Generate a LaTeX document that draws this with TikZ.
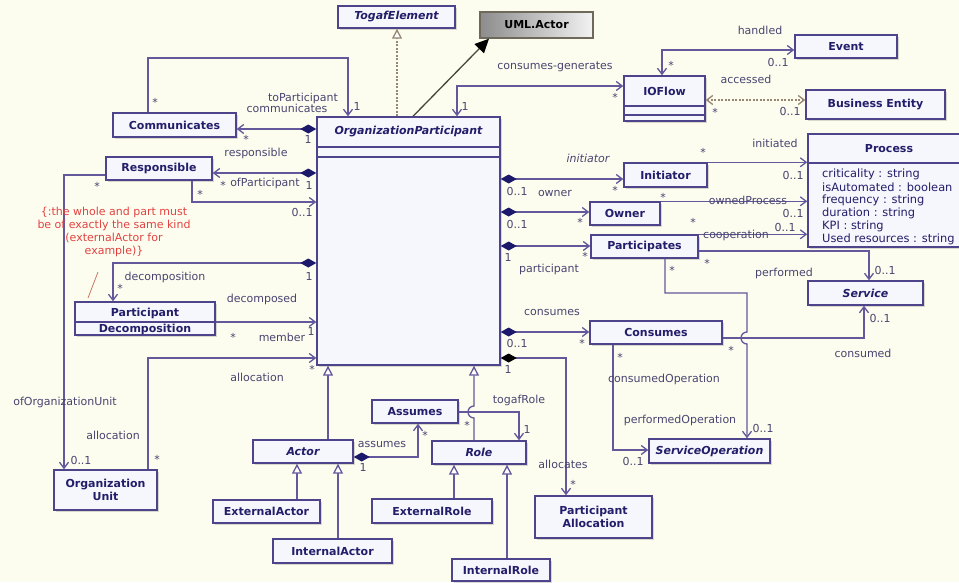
\documentclass[tikz,border=0pt]{standalone}
\usepackage{fontspec}
\setmainfont{DejaVu Sans}
\usetikzlibrary{arrows.meta,shadows}

\definecolor{bgc}{RGB}{253,253,239}
\definecolor{bordc}{RGB}{78,68,140}
\definecolor{boxfillc}{RGB}{246,246,253}
\definecolor{clstext}{RGB}{35,30,105}
\definecolor{linec}{RGB}{98,88,155}
\definecolor{labc}{RGB}{72,68,112}
\definecolor{diac}{RGB}{28,24,108}
\definecolor{notec}{RGB}{226,66,66}
\definecolor{realc}{RGB}{150,135,115}

\newcommand\lblfont{\fontsize{11}{13}\selectfont}
\newcommand\clsfont{\fontsize{11}{13}\selectfont\bfseries}
\newcommand\attrfont{\fontsize{11.4}{13}\selectfont}

\begin{document}
\begin{tikzpicture}[x=1pt,y=-1pt,
  >={Straight Barb[length=6pt,width=9pt]},
  cls/.style={draw=bordc, line width=1.4pt, fill=boxfillc, text=clstext,
    font=\clsfont, inner sep=0pt, align=center,
    drop shadow={shadow xshift=1.5pt,shadow yshift=-1.5pt,opacity=0.15,fill=black}},
  clsi/.style={cls, font=\clsfont\itshape},
  clstxt/.style={text=clstext, font=\clsfont, inner sep=0pt},
  umlbox/.style={draw={rgb,255:red,110;green,105;blue,90}, line width=1.4pt,
    left color=black!45, right color=black!5, text=black, font=\clsfont, inner sep=0pt},
  attr/.style={text=clstext, font=\attrfont, inner sep=0pt, anchor=west},
  assoc/.style={draw=linec, line width=1.3pt},
  comp/.style={assoc, {Diamond[length=16pt,width=9pt,color=diac]}->},
  compblack/.style={assoc, {Diamond[length=16pt,width=9pt,color=black]}->},
  gen/.style={assoc, -{Triangle[length=10pt,width=10pt,fill=white]}},
  real/.style={draw=realc, line width=1.3pt, dash pattern=on 2pt off 1.5pt,
    -{Triangle[length=10pt,width=10pt,fill=white]}},
  dashassoc/.style={assoc, draw=realc, dash pattern=on 2pt off 1.5pt},
  boxline/.style={draw=bordc, line width=1.2pt},
  lab/.style={text=labc, font=\lblfont, inner sep=0pt, text height=8pt, text depth=2pt},
  star/.style={lab, yshift=-3pt}
]
\useasboundingbox (0,0) rectangle (959,582);
\fill[bgc] (0,0) rectangle (959,582);

% ---------- classes ----------
\node[clsi, minimum width=117pt, minimum height=22pt] (togaf) at (396.5,17) {TogafElement};
\node[umlbox, minimum width=113pt, minimum height=26pt] (umlactor) at (536.5,25) {UML.Actor};

\node[cls, minimum width=183pt, minimum height=248pt] (op) at (408.5,241) {};
\node[clstxt, font=\clsfont\itshape] (optitle) at (408.5,132) {OrganizationParticipant};
\draw[boxline] (op.west |- 0,147) -- (op.east |- 0,147);
\draw[boxline] (op.west |- 0,157) -- (op.east |- 0,157);

\node[cls, minimum width=123pt, minimum height=24pt] (comm) at (174.5,125) {Communicates};
\node[cls, minimum width=106pt, minimum height=23pt] (resp) at (159,168.5) {Responsible};
\node[cls, minimum width=140pt, minimum height=33pt] (pdec) at (145,318.5) {};
\draw[boxline] (pdec.west |- 0,322) -- (pdec.east |- 0,322);
\node[clstxt] (pdeca) at (145,313) {Participant};
\node[clstxt] (pdecb) at (145,329) {Decomposition};
\node[cls, minimum width=103pt, minimum height=40pt] (orgunit) at (105.5,490) {Organization\\Unit};

\node[clsi, minimum width=100pt, minimum height=23pt] (actor) at (303,451.5) {Actor};
\node[cls, minimum width=107pt, minimum height=23pt] (extactor) at (266.5,511.5) {ExternalActor};
\node[cls, minimum width=119pt, minimum height=24pt] (intactor) at (332.5,551) {InternalActor};
\node[cls, minimum width=86pt, minimum height=23pt] (assumes) at (415,411.5) {Assumes};
\node[clsi, minimum width=94pt, minimum height=23pt] (role) at (479,452.5) {Role};
\node[cls, minimum width=120pt, minimum height=24pt] (extrole) at (432,511) {ExternalRole};
\node[cls, minimum width=98pt, minimum height=22pt] (introle) at (501,570) {InternalRole};
\node[cls, minimum width=117pt, minimum height=42pt] (partalloc) at (593.5,517) {Participant\\Allocation};

\node[cls, minimum width=81pt, minimum height=45pt] (ioflow) at (664.5,98.5) {};
\node[clstxt] (ioflowt) at (664.5,91) {IOFlow};
\draw[boxline] (ioflow.west |- 0,106) -- (ioflow.east |- 0,106);
\draw[boxline] (ioflow.west |- 0,115) -- (ioflow.east |- 0,115);
\node[cls, minimum width=102pt, minimum height=23pt] (event) at (846,46.5) {Event};
\node[cls, minimum width=139pt, minimum height=29pt] (bizent) at (875.5,104.5) {Business Entity};

\node[cls, minimum width=162pt, minimum height=113pt] (process) at (889,190.5) {};
\node[clstxt] (processt) at (889,149) {Process};
\draw[boxline] (process.west |- 0,163) -- (process.east |- 0,163);
\node[attr] (pa1) at (822,174) {criticality : string};
\node[attr] (pa2) at (822,187) {isAutomated : boolean};
\node[attr] (pa3) at (822,200) {frequency : string};
\node[attr] (pa4) at (822,213) {duration : string};
\node[attr] (pa5) at (822,226) {KPI : string};
\node[attr] (pa6) at (822,239) {Used resources : string};

\node[cls, minimum width=83pt, minimum height=24pt] (initiator) at (665.5,175) {Initiator};
\node[cls, minimum width=70pt, minimum height=23pt] (owner) at (625,213.5) {Owner};
\node[cls, minimum width=107pt, minimum height=23pt] (participates) at (644.5,246.5) {Participates};
\node[clsi, minimum width=115pt, minimum height=24pt] (service) at (865.5,293) {Service};
\node[cls, minimum width=132pt, minimum height=23pt] (consumes) at (656,332.5) {Consumes};
\node[clsi, minimum width=121pt, minimum height=24pt] (servop) at (709.5,451) {ServiceOperation};

% ---------- connectors, left side ----------
\draw[assoc,->] (comm.north -| 148,0) |- (348,58) -- (op.north -| 348,0);
\draw[comp] (op.west |- 0,129) -- (comm.east |- 0,129);
\draw[comp] (op.west |- 0,173) -- (resp.east |- 0,173);
\draw[assoc,->] (resp.south -| 192,0) |- (op.west |- 0,202);
\draw[assoc,->] (resp.west |- 0,175) -| (orgunit.north -| 64,0);
\draw[comp] (op.west |- 0,263) -| (pdec.north -| 113,0);
\draw[assoc,->] (pdec.east |- 0,322) -- (op.west |- 0,322);
\draw[assoc,->] (orgunit.north -| 148,0) |- (op.west |- 0,358);

% ---------- generalizations ----------
\draw[gen] (actor.north -| 328,0) -- (op.south -| 328,0);
\draw[gen] (role.north -| 474,0) -- (474,418) arc[start angle=-90,end angle=-270,radius=6pt] -- (op.south -| 474,0);
\draw[gen] (extactor.north -| 297,0) -- (actor.south -| 297,0);
\draw[gen] (intactor.north -| 338,0) -- (actor.south -| 338,0);
\draw[gen] (extrole.north -| 454,0) -- (role.south -| 454,0);
\draw[gen] (introle.north -| 507,0) -- (role.south -| 507,0);

\draw[comp] (actor.east |- 0,457) -| (assumes.south -| 418,0);
\draw[assoc,->] (assumes.east |- 0,412) -| (role.north -| 519,0);
\draw[compblack] (op.east |- 0,358) -| (partalloc.north -| 566,0);

% ---------- connectors, right side ----------
\draw[comp] (op.east |- 0,179) -- (initiator.west |- 0,179);
\draw[comp] (op.east |- 0,212) -- (owner.west |- 0,212);
\draw[comp] (op.east |- 0,246) -- (participates.west |- 0,246);
\draw[comp] (op.east |- 0,332) -- (consumes.west |- 0,332);

\draw[assoc,->] (initiator.north east) -- (process.west |- initiator.north east);
\draw[assoc,->] (owner.north east) -- (process.west |- owner.north east);
\draw[assoc,->] (participates.north east) -- (process.west |- participates.north east);
\draw[assoc,->] (participates.east |- 0,251) -| (service.north -| 869,0);
\draw[assoc,->] (consumes.east |- 0,338) -| (service.south -| 864,0);
\draw[assoc,->] (participates.south -| 665,0) |- (747,293) -- (747,332)
  arc[start angle=90,end angle=270,radius=6pt] -- (servop.north -| 747,0);
\draw[assoc,->] (consumes.south -| 613,0) |- (servop.west |- 0,450);

\draw[assoc,<->] (op.north -| 457,0) |- (ioflow.west |- 0,86);
\draw[assoc,<->] (ioflow.north -| 662,0) |- (event.west |- 0,50);
\draw[dashassoc,<->] (ioflow.east |- 0,100) -- (bizent.west |- 0,100);

\draw[real] (op.north -| 397,0) -- (togaf.south -| 397,0);
\draw[draw={rgb,255:red,70;green,70;blue,60}, line width=1.3pt,
  -{Triangle[length=14pt,width=13pt,color=black]}] (op.north -| 413,0) -- (umlactor.south -| 489,0);

% ---------- constraint note ----------
\node[text=notec, font=\lblfont, align=center, inner sep=0pt] (note) at (114,231.5)
  {\{:the whole and part must\\be of exactly the same kind\\(externalActor for\\example)\}};
\coordinate (notetip) at (98,272);
\coordinate (notefoot) at (88,298);
\draw[draw={rgb,255:red,200;green,120;blue,100}, line width=0.8pt] (notetip) -- (notefoot);

% ---------- role names and multiplicities ----------
\node[lab] (l1) at (303,98) {toParticipant};
\node[lab] (l2) at (287,109) {communicates};
\node[star] (m1) at (155,100) {*};
\node[lab] (m2) at (357,107) {1};
\node[star] (m3) at (246,137) {*};
\node[lab] (m4) at (308,140) {1};
\node[lab] (l3) at (256,153) {responsible};
\node[star] (m5) at (223,183) {*};
\node[lab] (l4) at (265,183) {ofParticipant};
\node[lab] (m6) at (309,186) {1};
\node[star] (m7) at (200,192) {*};
\node[lab] (m8) at (302,213) {0..1};
\node[star] (m9) at (97,184) {*};
\node[lab] (l5) at (65,402) {ofOrganizationUnit};
\node[lab] (m10) at (81,461) {0..1};
\node[lab] (l6) at (165,277) {decomposition};
\node[star] (m11) at (120,286) {*};
\node[lab] (m12) at (309,277) {1};
\node[lab] (l7) at (262,299) {decomposed};
\node[star] (m13) at (233,335) {*};
\node[lab] (l8) at (282,338) {member};
\node[lab] (m14) at (311,332) {1};
\node[lab] (l9) at (257,378) {allocation};
\node[star] (m15) at (312,367) {*};
\node[lab] (l10) at (113,436) {allocation};
\node[star] (m16) at (157,457) {*};
\node[lab] (l11) at (382,444) {assumes};
\node[star] (m17) at (425,433) {*};
\node[lab] (m18) at (363,468) {1};
\node[lab] (l12) at (519,400) {togafRole};
\node[star] (m19) at (467,423) {*};
\node[lab] (m20) at (527,430) {1};
\node[lab] (l13) at (563,465) {allocates};
\node[star] (m21) at (573,482) {*};
\node[lab] (m22) at (508,370) {1};
\node[lab] (l14) at (552,312) {consumes};
\node[lab] (m23) at (517,344) {0..1};
\node[star] (m24) at (582,341) {*};
\node[lab, font=\lblfont\itshape] (l15) at (588,159) {initiator};
\node[lab] (m25) at (517,192) {0..1};
\node[star] (m26) at (615,188) {*};
\node[lab] (l16) at (555,193) {owner};
\node[lab] (m27) at (517,225) {0..1};
\node[star] (m28) at (580,220) {*};
\node[lab] (l17) at (549,269) {participant};
\node[lab] (m29) at (508,258) {1};
\node[star] (m30) at (585,254) {*};
\node[lab] (l18) at (555,66) {consumes-generates};
\node[star] (m31) at (615,95) {*};
\node[lab] (m32) at (465,107) {1};
\node[lab] (l19) at (760,31) {handled};
\node[star] (m33) at (671,63) {*};
\node[lab] (m34) at (778,63) {0..1};
\node[lab] (l20) at (746,80) {accessed};
\node[star] (m35) at (715,110) {*};
\node[lab] (m36) at (790,112) {0..1};
\node[lab] (l21) at (775,144) {initiated};
\node[star] (m37) at (703,150) {*};
\node[lab] (m38) at (793,176) {0..1};
\node[lab] (l22) at (748,201) {ownedProcess};
\node[star] (m39) at (663,195) {*};
\node[lab] (m40) at (793,214) {0..1};
\node[lab] (l23) at (736,235) {cooperation};
\node[star] (m41) at (693,220) {*};
\node[lab] (m42) at (785,228) {0..1};
\node[lab] (l24) at (784,273) {performed};
\node[star] (m43) at (707,261) {*};
\node[lab] (m44) at (885,271) {0..1};
\node[lab] (l25) at (863,354) {consumed};
\node[star] (m45) at (731,348) {*};
\node[lab] (m46) at (880,319) {0..1};
\node[lab] (l26) at (680,420) {performedOperation};
\node[star] (m47) at (672,268) {*};
\node[lab] (m48) at (763,429) {0..1};
\node[lab] (l27) at (664,379) {consumedOperation};
\node[star] (m49) at (620,355) {*};
\node[lab] (m50) at (633,462) {0..1};
\end{tikzpicture}
\end{document}
